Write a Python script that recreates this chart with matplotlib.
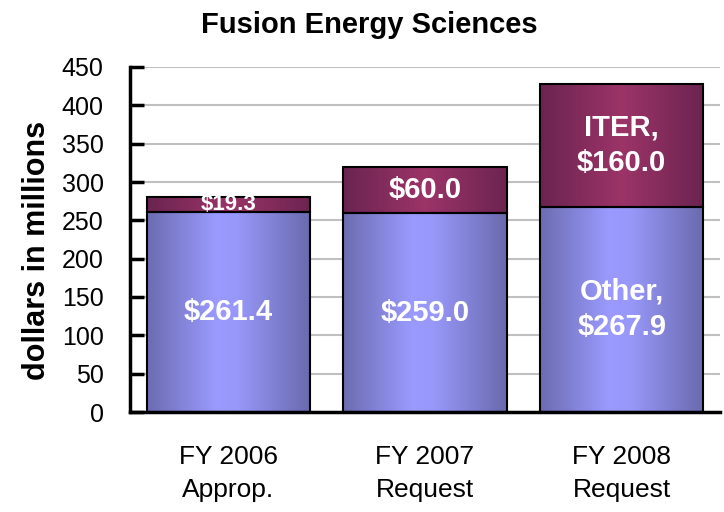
import matplotlib.pyplot as plt
import numpy as np
from matplotlib.colors import LinearSegmentedColormap

plt.rcParams['font.family'] = ['Liberation Sans', 'DejaVu Sans']

years = ['FY 2006\nApprop.', 'FY 2007\nRequest', 'FY 2008\nRequest']
other = [261.4, 259.0, 267.9]
iter_vals = [19.3, 60.0, 160.0]
other_labels = ['$261.4', '$259.0', 'Other,\n$267.9']
iter_labels = ['$19.3', '$60.0', 'ITER,\n$160.0']

blue_cm = LinearSegmentedColormap.from_list(
    'b', [(0, '#6c6cb0'), (0.42, '#9a9aff'), (0.55, '#9898fa'), (1, '#6a6aae')])
red_cm = LinearSegmentedColormap.from_list(
    'r', [(0, '#6a2450'), (0.5, '#9c3468'), (1, '#6c2450')])

fig = plt.figure(figsize=(7.24, 5.12), dpi=100)
ax = fig.add_axes([130 / 724, 100 / 512, 590 / 724, 345 / 512])

x = np.arange(len(years))
w = 0.83
b1 = ax.bar(x, other, w, color='none', edgecolor='black', linewidth=1.5, zorder=3)
b2 = ax.bar(x, iter_vals, w, bottom=other, color='none', edgecolor='black',
            linewidth=1.5, zorder=3)

# horizontal gradient fill, clipped to each bar
grad = np.linspace(0, 1, 256).reshape(1, -1)
for bars, cm in [(b1, blue_cm), (b2, red_cm)]:
    for p in bars:
        x0, y0 = p.get_x(), p.get_y()
        im = ax.imshow(grad, cmap=cm, aspect='auto', zorder=2,
                       extent=[x0, x0 + p.get_width(), y0, y0 + p.get_height()])
        im.set_clip_path(p)

for i in range(len(years)):
    ax.text(x[i], other[i] / 2, other_labels[i], ha='center', va='center',
            color='white', fontsize=21, fontweight='bold', zorder=4,
            linespacing=1.35)
    fs = 16 if iter_vals[i] < 30 else 21
    ax.text(x[i], other[i] + iter_vals[i] / 2, iter_labels[i], ha='center',
            va='center', color='white', fontsize=fs, fontweight='bold', zorder=4,
            linespacing=1.35)

ax.set_xlim(-0.5, 2.5)
ax.set_ylim(0, 450)
ax.set_yticks(range(0, 451, 50))
ax.yaxis.grid(True, color='#c0c0c0', linewidth=1.5, zorder=0)
ax.set_axisbelow(True)
for s in ['top', 'right']:
    ax.spines[s].set_visible(False)
ax.spines['left'].set_linewidth(2.5)
ax.spines['bottom'].set_linewidth(2.5)
ax.tick_params(axis='y', direction='in', length=10, width=2.5, labelsize=18, pad=19)
ax.tick_params(axis='x', length=0, labelsize=19, pad=24)
ax.set_xticks(x)
ax.set_xticklabels(years, linespacing=1.45)

fig.text(369 / 724, 1 - 25 / 512, 'Fusion Energy Sciences', ha='center',
         va='center', fontsize=21, fontweight='bold')
fig.text(37 / 724, 1 - 250 / 512, 'dollars in millions', rotation=90,
         ha='center', va='center', fontsize=22, fontweight='bold')

fig.savefig('out.png', dpi=100)
